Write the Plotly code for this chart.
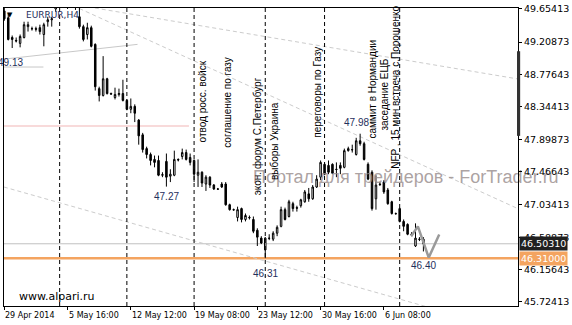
import plotly.graph_objects as go

# ---------------- data ----------------
bar_open = [49.628, 49.535, 49.271, 49.232, 49.192, 49.271, 49.417, 49.390, 49.390, 49.403,
            49.311, 49.483, 49.509, 49.654, 49.733, 49.786, 49.760, 49.799, 49.747, 49.549,
            49.417, 49.311, 49.403, 49.179, 48.585, 48.493, 48.717, 48.519, 48.466, 48.506,
            48.519, 48.427, 48.308, 48.347, 48.163, 47.965, 47.780, 47.701, 47.635, 47.621,
            47.423, 47.608, 47.410, 47.423, 47.635, 47.674, 47.727, 47.661, 47.621, 47.423,
            47.463, 47.305, 47.397, 47.291, 47.239, 47.305, 47.305, 47.027, 46.961, 46.856,
            46.975, 46.829, 46.856, 46.829, 46.684, 46.579, 46.420, 46.579, 46.565, 46.645,
            46.737, 46.961, 46.869, 47.041, 46.988, 47.014, 47.067, 47.173, 47.107, 47.265,
            47.397, 47.569, 47.555, 47.569, 47.503, 47.555, 47.529, 47.753, 47.767, 47.701,
            47.885, 47.846, 47.569, 47.463, 47.107, 47.305, 47.331, 47.225, 47.067, 46.909,
            46.975, 46.803, 46.763, 46.631, 46.473, 46.565, 46.565]
bar_high = [49.667, 49.601, 49.298, 49.271, 49.311, 49.483, 49.483, 49.417, 49.417, 49.443,
            49.469, 49.549, 49.549, 49.786, 49.839, 49.865, 49.839, 49.865, 49.813, 49.733,
            49.443, 49.469, 49.430, 49.192, 48.611, 49.021, 48.730, 48.532, 48.598, 48.585,
            48.704, 48.440, 48.453, 48.374, 48.176, 47.991, 47.806, 47.727, 47.687, 47.687,
            47.463, 47.714, 47.503, 47.753, 47.648, 47.780, 47.767, 47.714, 47.635, 47.635,
            47.476, 47.423, 47.410, 47.305, 47.252, 47.331, 47.331, 47.041, 46.975, 47.001,
            46.988, 46.909, 46.882, 46.869, 46.711, 46.605, 46.592, 46.631, 46.671, 46.750,
            47.001, 46.988, 47.093, 47.067, 47.014, 47.107, 47.225, 47.252, 47.291, 47.423,
            47.621, 47.595, 47.621, 47.582, 47.595, 47.595, 47.780, 47.806, 47.833, 47.925,
            47.980, 47.872, 47.595, 47.489, 47.423, 47.331, 47.357, 47.252, 47.080, 46.922,
            46.988, 46.829, 46.777, 46.658, 46.777, 46.592, 46.592]
bar_low = [49.496, 49.232, 49.130, 49.205, 49.139, 49.258, 49.351, 49.364, 49.351, 49.311,
           49.153, 49.417, 49.417, 49.615, 49.667, 49.681, 49.654, 49.694, 49.641, 49.390,
           49.219, 49.245, 49.139, 48.559, 48.413, 48.479, 48.506, 48.506, 48.440, 48.479,
           48.413, 48.295, 48.255, 48.136, 47.833, 47.727, 47.648, 47.555, 47.529, 47.410,
           47.397, 47.270, 47.331, 47.410, 47.608, 47.635, 47.621, 47.555, 47.331, 47.265,
           47.265, 47.212, 47.252, 47.225, 47.225, 47.252, 47.014, 46.948, 46.948, 46.803,
           46.790, 46.803, 46.829, 46.645, 46.473, 46.499, 46.310, 46.552, 46.539, 46.605,
           46.724, 46.816, 46.856, 46.935, 46.935, 46.988, 47.054, 47.067, 47.093, 47.252,
           47.357, 47.423, 47.437, 47.437, 47.397, 47.437, 47.516, 47.740, 47.727, 47.687,
           47.819, 47.621, 47.357, 46.948, 46.961, 47.278, 47.173, 47.027, 46.895, 46.895,
           46.790, 46.671, 46.618, 46.605, 46.460, 46.539, 46.400]
bar_close = [49.522, 49.245, 49.245, 49.225, 49.285, 49.443, 49.443, 49.388, 49.383, 49.351,
             49.443, 49.509, 49.522, 49.733, 49.786, 49.760, 49.799, 49.747, 49.707, 49.417,
             49.245, 49.403, 49.153, 48.611, 48.493, 48.717, 48.519, 48.512, 48.506, 48.519,
             48.427, 48.308, 48.347, 48.255, 47.951, 47.767, 47.701, 47.621, 47.595, 47.423,
             47.430, 47.397, 47.437, 47.635, 47.628, 47.727, 47.635, 47.595, 47.437, 47.463,
             47.318, 47.397, 47.291, 47.239, 47.236, 47.265, 47.027, 46.961, 46.958, 46.961,
             46.829, 46.882, 46.853, 46.671, 46.592, 46.513, 46.579, 46.576, 46.645, 46.724,
             46.961, 46.829, 47.067, 46.975, 46.981, 47.093, 47.199, 47.107, 47.265, 47.371,
             47.595, 47.437, 47.463, 47.450, 47.500, 47.516, 47.753, 47.780, 47.764, 47.885,
             47.846, 47.635, 47.371, 46.975, 47.291, 47.298, 47.199, 47.041, 46.909, 46.906,
             46.803, 46.737, 46.631, 46.628, 46.579, 46.562, 46.5031]
bars = list(range(len(bar_open)))

date_label_bars = [0, 16, 32, 48, 64, 80, 96]
date_labels = ["29 Apr 2014", "5 May 16:00", "12 May 12:00", "19 May 08:00",
               "23 May 12:00", "30 May 16:00", "6 Jun 08:00"]

price_ticks = [49.65413, 49.20873, 48.77643, 48.34413, 47.89873,
               47.46643, 47.03413, 46.58873, 46.15643, 45.72413]
price_tick_labels = ["49.65413", "49.20873", "48.77643", "48.34413", "47.89873",
                     "47.46643", "47.03413", "46.58873", "46.15643", "45.72413"]

event_line_bars = [14, 31, 48, 66, 81, 100]
event_texts = ["отвод росс. войск", "соглашение по газу", "экон. форум С.Петербург",
               "выборы Украина", "переговоры по Газу", "саммит в Нормандии",
               "заседание ЕЦБ", "NFP , 15 мин встреча с.Порошенко"]
event_text_bars = [50.2, 56.25, 64.05, 68.2, 79.2, 93.2, 96.2, 99.05]
event_text_base = [47.833, 47.767, 47.120, 47.331, 47.899, 47.892, 47.991, 47.489]

extreme_labels = ["49.13", "47.27", "46.31", "47.98", "46.40"]
extreme_label_bars = [1.6, 41.0, 66.0, 89.05, 106.1]
extreme_label_prices = [48.935, 47.133, 46.110, 48.136, 46.209]

bid_price = 46.5031
support_level = 46.31
pink_level = 48.083
pink_level_bars = [-0.1, 46.7]
short_level = 48.875
short_level_bars = [-0.1, 9.9]

trend_upper_bars = [19.0, 130.0]
trend_upper_prices = [49.660, 46.972]
trend_mid_bars = [22.9, 130.0]
trend_mid_prices = [49.667, 48.714]
trend_low_bars = [-0.1, 110.0]
trend_low_prices = [47.265, 45.610]
trend_rise_bars = [-0.1, 33.7]
trend_rise_prices = [48.981, 49.179]

check_bars = [102.9, 104.6, 107.35, 110.0]
check_prices = [46.605, 46.737, 46.318, 46.627]

y_range = [45.668, 49.667]
x_range = [-0.075, 129.925]

NAVY = "#1f2f5c"
FONT = "DejaVu Sans"

fig = go.Figure()

# watermark (behind candles)
fig.add_trace(go.Scatter(
    x=[62.9], y=[47.384], mode="text",
    text=["Портал для трейдеров - ForTrader.ru"], textposition="middle right",
    textfont=dict(family="Liberation Sans", size=18, color="rgba(150,138,138,0.8)"),
    cliponaxis=False, hoverinfo="skip", showlegend=False))

fig.add_trace(go.Candlestick(
    x=bars, open=bar_open, high=bar_high, low=bar_low, close=bar_close,
    increasing=dict(line=dict(color="black", width=1), fillcolor="white"),
    decreasing=dict(line=dict(color="black", width=1), fillcolor="black"),
    whiskerwidth=0, showlegend=False, hoverinfo="skip"))

fig.add_trace(go.Scatter(
    x=check_bars, y=check_prices, mode="lines",
    line=dict(color="#9a9a9a", width=2.5), hoverinfo="skip", showlegend=False))

shapes = []
dash = "4px,3px"
for xs, ys, col, d in [
    (trend_upper_bars, trend_upper_prices, "#cccccc", dash),
    (trend_mid_bars, trend_mid_prices, "#cccccc", dash),
    (trend_low_bars, trend_low_prices, "#cccccc", dash),
    (trend_rise_bars, trend_rise_prices, "#c8c8c8", "solid"),
]:
    shapes.append(dict(type="line", xref="x", yref="y", x0=xs[0], x1=xs[1], y0=ys[0], y1=ys[1],
                       line=dict(color=col, width=1, dash=d), layer="below"))
shapes.append(dict(type="line", xref="x", yref="y", x0=short_level_bars[0], x1=short_level_bars[1],
                   y0=short_level, y1=short_level, line=dict(color="#c8c8c8", width=1), layer="below"))
shapes.append(dict(type="line", xref="x", yref="y", x0=pink_level_bars[0], x1=pink_level_bars[1],
                   y0=pink_level, y1=pink_level, line=dict(color="#f8dada", width=2), layer="below"))
shapes.append(dict(type="line", xref="paper", yref="y", x0=0, x1=1,
                   y0=bid_price, y1=bid_price, line=dict(color="#c0c0c0", width=1), layer="below"))
shapes.append(dict(type="line", xref="paper", yref="y", x0=0, x1=1,
                   y0=support_level, y1=support_level, line=dict(color="#f4a460", width=2.5), layer="below"))
for b in event_line_bars:
    shapes.append(dict(type="line", xref="x", yref="paper", x0=b, x1=b, y0=0, y1=1,
                       line=dict(color="black", width=1, dash=dash)))
# dark stripe at the right frame
shapes.append(dict(type="rect", xref="paper", yref="y", x0=0.998, x1=1.0042, y0=47.951, y1=49.087,
                   fillcolor="#333333", line=dict(width=0)))

annotations = []
for t, bx, by in zip(event_texts, event_text_bars, event_text_base):
    annotations.append(dict(x=bx, y=by, xref="x", yref="y", text=t, textangle=-90,
                            showarrow=False, xanchor="center", yanchor="bottom",
                            font=dict(family="Liberation Sans", size=10, color="black")))
for t, bx, by in zip(extreme_labels, extreme_label_bars, extreme_label_prices):
    annotations.append(dict(x=bx, y=by, xref="x", yref="y", text=t, showarrow=False,
                            xanchor="center", yanchor="middle",
                            font=dict(family="Liberation Sans", size=10, color=NAVY)))
for b, t in zip(date_label_bars, date_labels):
    annotations.append(dict(x=b, y=0, xref="x", yref="paper", text=t, showarrow=False,
                            xanchor="left", yanchor="top", yshift=-3, xshift=-1,
                            font=dict(family=FONT, size=8, color="black")))
annotations.append(dict(x=1, y=bid_price, xref="paper", yref="y", text="46.50310", showarrow=False,
                        xanchor="left", yanchor="middle", xshift=1, bgcolor="#202020", borderpad=1,
                        font=dict(family=FONT, size=9.5, color="white")))
annotations.append(dict(x=1, y=support_level, xref="paper", yref="y", text="46.31000", showarrow=False,
                        xanchor="left", yanchor="middle", xshift=1, bgcolor="#f4a460", borderpad=1,
                        font=dict(family=FONT, size=9.5, color="white")))
annotations.append(dict(x=0.038, y=0.978, xref="paper", yref="paper", text="EURRUR,H4", showarrow=False,
                        xanchor="left", yanchor="middle",
                        font=dict(family=FONT, size=9, color=NAVY)))
annotations.append(dict(x=0.0115, y=0.978, xref="paper", yref="paper", text="▼", showarrow=False,
                        xanchor="center", yanchor="middle",
                        font=dict(family=FONT, size=7, color="black")))
annotations.append(dict(x=0.026, y=0.033, xref="paper", yref="paper", text="www.alpari.ru", showarrow=False,
                        xanchor="left", yanchor="middle",
                        font=dict(family=FONT, size=11, color="black")))

fig.update_layout(
    width=572, height=325,
    margin=dict(l=3, r=49, t=3, b=19),
    paper_bgcolor="white", plot_bgcolor="white",
    showlegend=False, boxgap=0.45,
    shapes=shapes, annotations=annotations,
    xaxis=dict(range=x_range, showgrid=False, zeroline=False, showline=True, mirror=True,
               linecolor="black", linewidth=1, tickvals=date_label_bars, ticks="outside",
               ticklen=3, tickcolor="black", showticklabels=False,
               rangeslider=dict(visible=False), fixedrange=True),
    yaxis=dict(range=y_range, side="right", showgrid=False, zeroline=False, showline=True,
               mirror=True, linecolor="black", linewidth=1, tickvals=price_ticks,
               ticktext=price_tick_labels, ticks="outside", ticklen=3, tickcolor="black",
               ticklabeloverflow="allow",
               tickfont=dict(family=FONT, size=9.5, color="black"), fixedrange=True),
)

fig.write_html("out.html")
